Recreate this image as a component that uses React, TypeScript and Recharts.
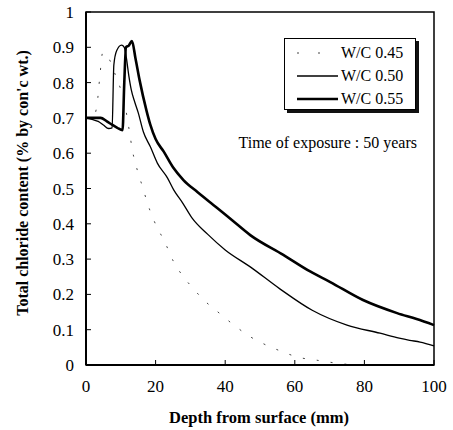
import { LineChart, Line, XAxis, YAxis, Legend, ReferenceArea } from "recharts"

// depth (mm) / total chloride content (% by con'c wt.)
const wc045 = [
  [0, 0.7], [2, 0.7], [3.2, 0.74], [4, 0.82], [4.8, 0.885], [5.8, 0.88], [7, 0.86],
  [8.5, 0.82], [10, 0.78], [11.3, 0.73], [12.5, 0.66], [13.3, 0.61], [14.8, 0.55],
  [16.4, 0.5], [17.6, 0.46], [19.5, 0.41], [22.8, 0.345], [25.2, 0.292], [28, 0.25],
  [30.5, 0.22], [34.3, 0.18], [38.3, 0.147], [42.9, 0.11], [47.2, 0.08], [50.6, 0.062],
  [55.8, 0.04], [61, 0.022], [66.7, 0.013], [70.7, 0.007], [75, 0.002], [80, 0], [100, 0],
]
const wc050 = [
  [0, 0.7], [2, 0.695], [3.5, 0.69], [5, 0.68], [6.5, 0.67], [7.5, 0.672], [8, 0.85],
  [8.8, 0.89], [10.2, 0.906], [11, 0.9], [11.6, 0.87], [12.3, 0.82], [13, 0.78],
  [14, 0.745], [15, 0.715], [16.5, 0.66], [18.5, 0.618], [20.5, 0.572], [23.4, 0.53],
  [25.2, 0.496], [27.7, 0.46], [30.5, 0.416], [35, 0.37], [40, 0.326], [47.2, 0.278],
  [55.8, 0.215], [65, 0.155], [75, 0.113], [84.5, 0.09], [90, 0.076], [93, 0.07],
  [96, 0.065], [100, 0.054],
]
const wc055 = [
  [0, 0.7], [2, 0.7], [4.2, 0.7], [6, 0.69], [7.6, 0.68], [9, 0.672], [10.5, 0.665],
  [11, 0.8], [11.5, 0.9], [12.3, 0.905], [13.2, 0.918], [14.2, 0.87], [15.4, 0.807],
  [17.4, 0.72], [18.5, 0.68], [20, 0.64], [22.3, 0.605], [25, 0.56], [28, 0.524],
  [32, 0.49], [37.7, 0.445], [42, 0.41], [47.2, 0.368], [56.7, 0.312], [64.4, 0.265],
  [70.2, 0.235], [79.6, 0.184], [89.4, 0.147], [95, 0.13], [100, 0.113],
]

const seriesNames = ["W/C 0.45", "W/C 0.50", "W/C 0.55"]
const xTicks = [0, 20, 40, 60, 80, 100]
const yTicks = [0, 0.1, 0.2, 0.3, 0.4, 0.5, 0.6, 0.7, 0.8, 0.9, 1]

const toRows = (pts: number[][]) => pts.map(([x, y]) => ({ x, y }))

const font = "'Liberation Serif', 'Times New Roman', serif"

const styles = [
  { stroke: "#444", width: 1, dash: "2 12", legendDash: "2 19" },
  { stroke: "#000", width: 1.3, dash: undefined, legendDash: undefined },
  { stroke: "#000", width: 2.6, dash: undefined, legendDash: undefined },
]

function LegendBox() {
  return (
    <div style={{ fontFamily: font, color: "#000" }}>
      <div
        style={{
          marginLeft: 48,
          width: 132,
          height: 72,
          border: "1px solid #000",
          boxShadow: "3px 3px 0 #111",
          background: "#fff",
          boxSizing: "border-box",
          paddingTop: 2,
        }}
      >
        {seriesNames.map((name, i) => (
          <div key={name} style={{ display: "flex", alignItems: "center", height: 23, fontSize: 16 }}>
            <svg width={55} height={10}>
              <line
                x1={12}
                x2={53}
                y1={5}
                y2={5}
                stroke={styles[i].stroke}
                strokeWidth={styles[i].width}
                strokeDasharray={styles[i].legendDash}
              />
            </svg>
            <span style={{ marginLeft: 1 }}>{name}</span>
          </div>
        ))}
      </div>
      <div style={{ marginTop: 24, fontSize: 16, whiteSpace: "nowrap", textAlign: "right" }}>
        Time of exposure : 50 years
      </div>
    </div>
  )
}

export default function App() {
  const data = [wc045, wc050, wc055].map(toRows)
  return (
    <div style={{ position: "absolute", left: 0, top: 0, width: 453, height: 430, background: "#fff" }}>
      <LineChart width={453} height={430} margin={{ top: 12, right: 19, left: 0, bottom: 0 }}>
        <XAxis
          type="number"
          dataKey="x"
          domain={[0, 100]}
          ticks={xTicks}
          height={65}
          tickSize={-5}
          tickMargin={20}
          axisLine={{ stroke: "#000", strokeWidth: 2 }}
          tickLine={{ stroke: "#000" }}
          tick={{ fontSize: 17, fill: "#000", fontFamily: font }}
          label={{
            content: () => (
              <text x={259} y={423} textAnchor="middle" fontFamily={font} fontWeight="bold" fontSize={16.5} fill="#000">
                Depth from surface (mm)
              </text>
            ),
          }}
        />
        <YAxis
          type="number"
          domain={[0, 1]}
          ticks={yTicks}
          width={86}
          tickSize={-5}
          tickMargin={17}
          interval={0}
          tickFormatter={(v: number) => (v === 0 || v === 1 ? String(v) : v.toFixed(1))}
          axisLine={{ stroke: "#000", strokeWidth: 2 }}
          tickLine={{ stroke: "#000" }}
          tick={{ fontSize: 17, fill: "#000", fontFamily: font }}
          label={{
            content: () => (
              <text
                x={22}
                y={183}
                transform="rotate(-90 22 183)"
                textAnchor="middle"
                dominantBaseline="central"
                fontFamily={font}
                fontWeight="bold"
                fontSize={16}
                fill="#000"
              >
                Total chloride content (% by con'c wt.)
              </text>
            ),
          }}
        />
        <ReferenceArea x1={0} x2={100} y1={0} y2={1} fill="none" stroke="#000" strokeWidth={1.5} ifOverflow="visible" />
        {data.map((rows, i) => (
          <Line
            key={seriesNames[i]}
            data={rows}
            dataKey="y"
            name={seriesNames[i]}
            type="monotone"
            stroke={styles[i].stroke}
            strokeWidth={styles[i].width}
            strokeDasharray={styles[i].dash}
            dot={false}
            activeDot={false}
            isAnimationActive={false}
          />
        ))}
        <Legend
          layout="vertical"
          align="center"
          verticalAlign="middle"
          wrapperStyle={{ left: 236, top: 38, width: 181 }}
          content={() => <LegendBox />}
        />
      </LineChart>
    </div>
  )
}
